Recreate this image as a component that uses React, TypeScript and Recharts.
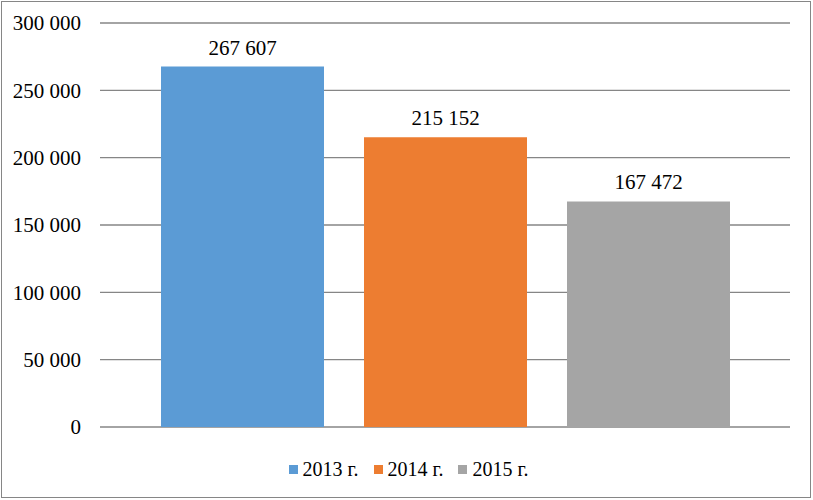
import React from 'react';
import { BarChart, Bar, XAxis, YAxis, CartesianGrid, Legend, LabelList } from 'recharts';

const CATEGORIES = [''];
const SERIES_NAMES = ['2013 г.', '2014 г.', '2015 г.'];
const VALUES_2013 = [267607];
const VALUES_2014 = [215152];
const VALUES_2015 = [167472];
const Y_TICKS = [0, 50000, 100000, 150000, 200000, 250000, 300000];

const COLORS = ['#5B9BD5', '#ED7D31', '#A5A5A5'];
const FONT = "'Liberation Serif', 'DejaVu Serif', serif";

const data = CATEGORIES.map((name, i) => ({
  name,
  y2013: VALUES_2013[i],
  y2014: VALUES_2014[i],
  y2015: VALUES_2015[i],
}));

const KEYS = ['y2013', 'y2014', 'y2015'];

// thousands separated by a space, like "267 607"
const fmt = (v: number) => String(v).replace(/\B(?=(\d{3})+(?!\d))/g, ' ');

const LegendContent = () => (
  <div
    style={{
      display: 'flex',
      justifyContent: 'center',
      alignItems: 'center',
      height: 55,
      paddingTop: 29,
      paddingLeft: 4,
      boxSizing: 'border-box',
      fontFamily: FONT,
      fontSize: 20,
      color: '#000',
    }}
  >
    {SERIES_NAMES.map((n, i) => (
      <div key={n} style={{ display: 'flex', alignItems: 'center', marginLeft: i ? 15 : 0 }}>
        <span style={{ width: 9, height: 9, background: COLORS[i], marginRight: 5, display: 'inline-block' }} />
        <span>{n}</span>
      </div>
    ))}
  </div>
);

const App: React.FC = () => {
  return (
    <div
      style={{
        position: 'absolute',
        left: 0,
        top: 0,
        width: 813,
        height: 500,
        background: '#fff',
        fontFamily: FONT,
      }}
    >
      <div
        style={{
          position: 'absolute',
          left: 1,
          top: 1,
          width: 810,
          height: 497,
          border: '1px solid #868686',
          boxSizing: 'border-box',
        }}
      />
      <BarChart
        width={813}
        height={500}
        data={data}
        margin={{ top: 23, right: 23, left: 0, bottom: 18 }}
        barGap={40}
        barSize={163}
        style={{ fontFamily: FONT }}
      >
        <CartesianGrid vertical={false} stroke="#868686" strokeWidth={1.3} />
        <XAxis dataKey="name" hide />
        <YAxis
          width={100}
          domain={[0, 300000]}
          ticks={Y_TICKS}
          tickFormatter={fmt}
          axisLine={false}
          tickLine={false}
          tickSize={0}
          tickMargin={19}
          tick={{ fill: '#000', fontSize: 21, fontFamily: FONT }}
        />
        <Legend
          verticalAlign="bottom"
          content={<LegendContent />}
          wrapperStyle={{ left: 0, width: 813 }}
        />
        {KEYS.map((k, i) => (
          <Bar key={k} dataKey={k} name={SERIES_NAMES[i]} fill={COLORS[i]} isAnimationActive={false}>
            <LabelList
              dataKey={k}
              position="top"
              offset={12}
              formatter={(v: any) => fmt(Number(v))}
              fill="#000"
              fontSize={21}
              fontFamily={FONT}
            />
          </Bar>
        ))}
      </BarChart>
    </div>
  );
};

export default App;
